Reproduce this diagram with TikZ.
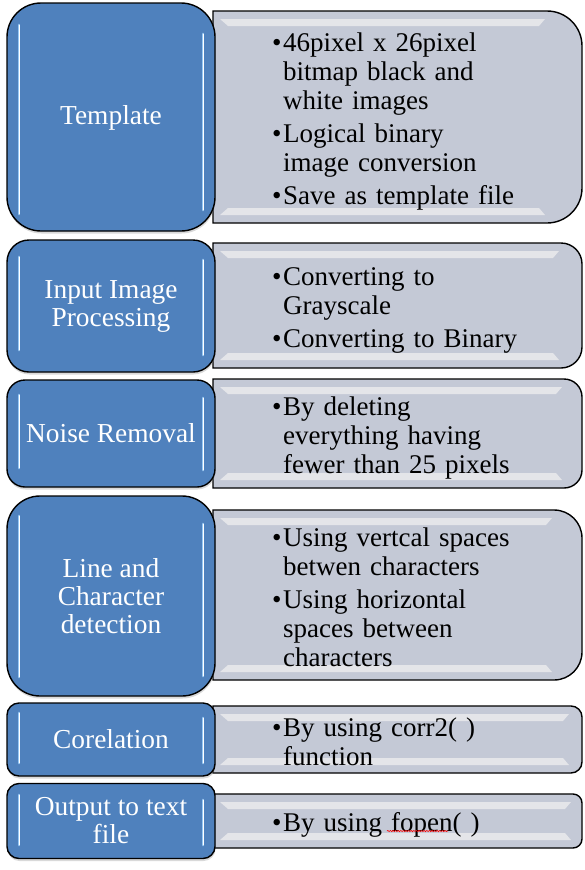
\documentclass[tikz,border=0pt]{standalone}
\usepackage{fontspec}
\setmainfont{Liberation Serif}
\usetikzlibrary{shadows,decorations.pathmorphing}

\definecolor{stageblue}{RGB}{79,129,189}
\definecolor{notegray}{RGB}{196,201,214}
\definecolor{notelight}{RGB}{228,229,233}
\definecolor{glossblue}{RGB}{150,200,245}

\newcommand{\bulletitem}{\par\setlength{\parskip}{4pt}\hangindent=11pt\hangafter=1\noindent\makebox[11pt][l]{\textbullet}}

\begin{document}
\begin{tikzpicture}[x=1pt,y=-1pt,
    stage/.style={draw=black,line width=1.4pt,fill=stageblue,text=white,align=center,minimum width=208pt,inner sep=0pt,
      font=\fontsize{27.4}{28}\selectfont,drop shadow={opacity=0.3,shadow xshift=0.5pt,shadow yshift=-2.5pt}},
    notebox/.style={draw=black,line width=1.4pt,fill=notegray},
    bevel/.style={fill=notelight},
    gloss/.style={draw=glossblue,double=white,double distance=0.7pt,line width=1pt,line cap=round},
    points/.style={anchor=west,inner sep=0pt,text width=300pt,font=\fontsize{27}{29}\selectfont},
    squiggle/.style={red,line width=0.6pt,decorate,decoration={snake,amplitude=0.6pt,segment length=2.6pt}}]
\useasboundingbox (0,0) rectangle (584,870);

\draw[notebox] (213,11) -- (547,11) arc[start angle=-90,end angle=0,radius=35] -- (582,188) arc[start angle=0,end angle=90,radius=35] -- (213,223) -- cycle;
\fill[bevel] (220,19) -- (545,19) -- (539,26) -- (228,26) -- cycle;
\fill[bevel] (228,208) -- (539,208) -- (545,215) -- (220,215) -- cycle;
\node[stage,minimum height=228pt,rounded corners=34pt] (tmpl) at (111,117) {\raisebox{-7pt}[0pt][0pt]{Template}};
\draw[gloss] (19,25) -- (19,214);
\draw[gloss] (203,34) -- (203,210);
\node[points] (tmplpts) at (272,114) {\bulletitem 46pixel x 26pixel\newline bitmap black and\newline white images
  \bulletitem Logical binary\newline image conversion
  \bulletitem Save as template file\par};

\draw[notebox] (213,243) -- (561,243) arc[start angle=-90,end angle=0,radius=21] -- (582,347) arc[start angle=0,end angle=90,radius=21] -- (213,368) -- cycle;
\fill[bevel] (220,251) -- (559,251) -- (553,258) -- (228,258) -- cycle;
\fill[bevel] (228,353) -- (553,353) -- (559,360) -- (220,360) -- cycle;
\node[stage,minimum height=132pt,rounded corners=22pt] (input) at (111,306) {Input Image\\Processing};
\draw[gloss] (19,257) -- (19,350);
\draw[gloss] (203,260) -- (203,355);
\node[points] (inputpts) at (272,303) {\bulletitem Converting to\newline Grayscale
  \bulletitem Converting to Binary\par};

\draw[notebox] (213,379) -- (564,379) arc[start angle=-90,end angle=0,radius=18] -- (582,470) arc[start angle=0,end angle=90,radius=18] -- (213,488) -- cycle;
\fill[bevel] (220,387) -- (562,387) -- (556,394) -- (228,394) -- cycle;
\fill[bevel] (228,473) -- (556,473) -- (562,480) -- (220,480) -- cycle;
\node[stage,minimum height=107pt,rounded corners=18pt] (noise) at (111,433.5) {Noise Removal};
\draw[gloss] (19,395) -- (19,468);
\draw[gloss] (203,398) -- (203,470);
\node[points] (noisepts) at (272,431) {\bulletitem By deleting\newline everything having\newline fewer than 25 pixels\par};

\draw[notebox] (213,510) -- (554,510) arc[start angle=-90,end angle=0,radius=28] -- (582,652) arc[start angle=0,end angle=90,radius=28] -- (213,680) -- cycle;
\fill[bevel] (220,518) -- (552,518) -- (546,525) -- (228,525) -- cycle;
\fill[bevel] (228,665) -- (546,665) -- (552,672) -- (220,672) -- cycle;
\node[stage,minimum height=200pt,rounded corners=33pt] (detect) at (111,596) {Line and\\Character\\detection};
\draw[gloss] (19,516) -- (19,677);
\draw[gloss] (203,524) -- (203,676);
\node[points] (detectpts) at (272,590) {\bulletitem Using vertcal spaces\newline betwen characters
  \bulletitem Using horizontal\newline spaces between\newline characters\par};

\draw[notebox] (213,706) -- (571,706) arc[start angle=-90,end angle=0,radius=11] -- (582,762) arc[start angle=0,end angle=90,radius=11] -- (213,773) -- cycle;
\fill[bevel] (220,714) -- (569,714) -- (563,721) -- (228,721) -- cycle;
\fill[bevel] (228,758) -- (563,758) -- (569,765) -- (220,765) -- cycle;
\node[stage,minimum height=73pt,rounded corners=12pt] (corel) at (111,739.5) {Corelation};
\draw[gloss] (19,713) -- (19,763);
\draw[gloss] (203,718) -- (203,763);
\node[points] (corelpts) at (272,735) {\bulletitem By using corr2( )\newline function\par};

\draw[notebox] (213,794) -- (573,794) arc[start angle=-90,end angle=0,radius=9] -- (582,839) arc[start angle=0,end angle=90,radius=9] -- (213,848) -- cycle;
\fill[bevel] (220,802) -- (571,802) -- (565,809) -- (228,809) -- cycle;
\fill[bevel] (228,833) -- (565,833) -- (571,840) -- (220,840) -- cycle;
\node[stage,minimum height=75pt,rounded corners=12pt] (output) at (111,821) {Output to text\\file};
\draw[gloss] (19,795) -- (19,845);
\draw[gloss] (203,800) -- (203,845);
\node[points] (outputpts) at (272,818) {\bulletitem By using fopen( )\par};
\coordinate (typo) at ([xshift=115pt,yshift=-13pt]outputpts.west);
\draw[squiggle] (typo) -- ++(61,0);
\end{tikzpicture}
\end{document}
